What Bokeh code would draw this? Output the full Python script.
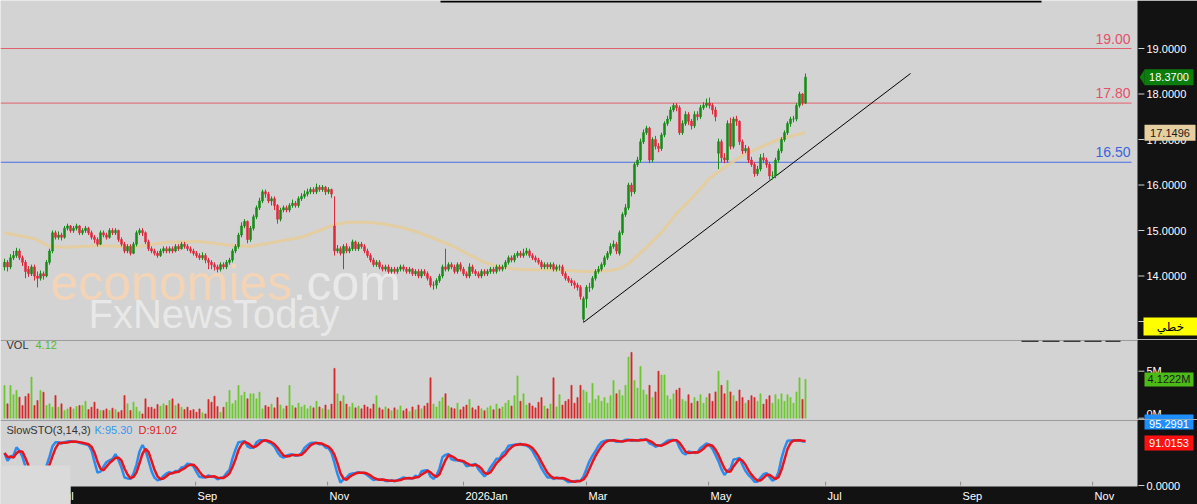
import pandas as pd
from bokeh.plotting import figure
from bokeh.layouts import column
from bokeh.models import Range1d, Label, BoxAnnotation, ColumnDataSource
from bokeh.embed import file_html
from bokeh.resources import INLINE

# ---------------- data ----------------
opens = [
    14.20, 14.30, 14.20, 14.40, 14.45, 14.55, 14.40, 14.30, 14.15, 14.05,
    14.20, 14.00, 13.95, 14.05, 14.00, 14.30, 14.55, 14.95, 14.85, 14.90,
    14.85, 15.05, 15.10, 15.00, 15.05, 15.10, 14.95, 15.00, 15.05, 14.95,
    14.85, 14.80, 14.70, 14.95, 14.90, 14.85, 15.00, 14.95, 15.00, 14.80,
    14.70, 14.55, 14.65, 14.50, 14.70, 14.95, 15.00, 14.95, 14.75, 14.60,
    14.55, 14.50, 14.45, 14.55, 14.60, 14.55, 14.60, 14.55, 14.65, 14.60,
    14.70, 14.65, 14.60, 14.55, 14.50, 14.45, 14.40, 14.45, 14.35, 14.30,
    14.25, 14.20, 14.15, 14.25, 14.20, 14.30, 14.35, 14.55, 14.65, 14.90,
    15.10, 15.20, 14.80, 15.05, 15.30, 15.50, 15.65, 15.85, 15.80, 15.65,
    15.70, 15.55, 15.25, 15.45, 15.50, 15.45, 15.55, 15.60, 15.55, 15.70,
    15.75, 15.80, 15.85, 15.90, 15.85, 15.95, 15.90, 15.95, 15.85, 15.90,
    15.10, 14.55, 14.60, 14.50, 14.65, 14.55, 14.60, 14.75, 14.60, 14.70,
    14.65, 14.55, 14.45, 14.35, 14.25, 14.30, 14.20, 14.15, 14.20, 14.10,
    14.15, 14.10, 14.15, 14.20, 14.15, 14.10, 14.15, 14.05, 14.10, 14.00,
    14.10, 14.05, 13.95, 13.80, 13.80, 13.90, 14.00, 14.20, 14.15, 14.25,
    14.20, 14.10, 14.25, 14.15, 14.05, 14.00, 14.20, 14.10, 14.05, 14.00,
    14.10, 14.05, 14.10, 14.15, 14.10, 14.20, 14.15, 14.20, 14.30, 14.40,
    14.35, 14.45, 14.50, 14.45, 14.50, 14.55, 14.45, 14.40, 14.35, 14.30,
    14.20, 14.25, 14.20, 14.25, 14.15, 14.20, 14.20, 14.05, 13.95, 13.90,
    13.85, 13.80, 13.75, 13.05, 13.50, 13.75, 13.75, 13.95, 14.10, 14.15,
    14.25, 14.40, 14.50, 14.65, 14.70, 14.50, 14.95, 15.35, 15.50, 16.00,
    15.85, 16.45, 16.55, 16.95, 17.15, 17.25, 16.55, 17.00, 16.85, 16.80,
    17.10, 17.35, 17.45, 17.65, 17.75, 17.70, 17.15, 17.35, 17.55, 17.40,
    17.30, 17.55, 17.50, 17.70, 17.75, 17.80, 17.75, 17.65, 16.70, 16.95,
    16.60, 16.55, 17.35, 16.85, 17.45, 17.40, 16.95, 16.75, 16.80, 16.55,
    16.45, 16.25, 16.35, 16.60, 16.55, 16.45, 16.20, 16.20, 16.55, 16.75,
    17.00, 17.15, 17.35, 17.45, 17.45, 17.75, 18.00, 17.80,
]
highs = [
    14.38, 14.35, 14.48, 14.55, 14.62, 14.60, 14.45, 14.35, 14.22, 14.25,
    14.25, 14.10, 14.12, 14.10, 14.35, 14.60, 15.00, 15.00, 14.98, 14.95,
    15.10, 15.15, 15.12, 15.10, 15.15, 15.12, 15.05, 15.10, 15.08, 15.00,
    14.90, 14.85, 15.00, 15.00, 14.95, 15.05, 15.05, 15.05, 15.02, 14.85,
    14.75, 14.70, 14.70, 14.75, 15.00, 15.05, 15.05, 14.98, 14.80, 14.65,
    14.60, 14.55, 14.60, 14.65, 14.65, 14.65, 14.65, 14.70, 14.70, 14.75,
    14.75, 14.70, 14.65, 14.60, 14.55, 14.50, 14.52, 14.50, 14.40, 14.35,
    14.30, 14.25, 14.30, 14.30, 14.35, 14.40, 14.60, 14.70, 14.95, 15.18,
    15.25, 15.22, 15.10, 15.35, 15.55, 15.72, 15.90, 15.90, 15.85, 15.75,
    15.75, 15.58, 15.50, 15.55, 15.55, 15.60, 15.68, 15.65, 15.75, 15.82,
    15.88, 15.92, 15.95, 15.95, 16.03, 16.00, 16.00, 15.98, 15.95, 15.92,
    15.75, 14.68, 14.65, 14.70, 14.72, 14.65, 14.80, 14.78, 14.75, 14.75,
    14.70, 14.60, 14.50, 14.40, 14.35, 14.35, 14.25, 14.25, 14.25, 14.20,
    14.20, 14.20, 14.25, 14.25, 14.20, 14.20, 14.18, 14.15, 14.15, 14.15,
    14.15, 14.10, 14.00, 13.88, 13.95, 14.05, 14.25, 14.60, 14.30, 14.30,
    14.25, 14.30, 14.30, 14.20, 14.10, 14.28, 14.25, 14.15, 14.10, 14.15,
    14.15, 14.15, 14.20, 14.20, 14.25, 14.25, 14.25, 14.35, 14.45, 14.45,
    14.50, 14.55, 14.55, 14.60, 14.62, 14.60, 14.50, 14.45, 14.40, 14.35,
    14.30, 14.30, 14.30, 14.30, 14.25, 14.25, 14.25, 14.10, 14.00, 13.95,
    13.90, 13.85, 13.80, 13.55, 13.80, 13.85, 14.00, 14.15, 14.22, 14.30,
    14.45, 14.55, 14.72, 14.78, 14.75, 15.00, 15.40, 15.58, 16.05, 16.05,
    16.50, 16.62, 17.02, 17.22, 17.30, 17.28, 17.05, 17.08, 16.92, 17.15,
    17.40, 17.52, 17.72, 17.80, 17.80, 17.75, 17.42, 17.62, 17.60, 17.45,
    17.62, 17.62, 17.76, 17.82, 17.90, 17.92, 17.80, 17.72, 17.02, 17.00,
    16.70, 17.42, 17.48, 17.50, 17.52, 17.42, 17.00, 16.88, 16.85, 16.62,
    16.50, 16.42, 16.68, 16.70, 16.60, 16.50, 16.30, 16.60, 16.80, 17.05,
    17.20, 17.40, 17.50, 17.52, 17.80, 18.05, 18.02, 18.45,
]
lows = [
    14.12, 14.10, 14.15, 14.35, 14.40, 14.35, 14.22, 13.95, 13.98, 14.00,
    13.90, 13.75, 13.90, 13.92, 13.97, 14.25, 14.50, 14.80, 14.80, 14.78,
    14.82, 15.00, 14.95, 14.95, 15.00, 14.90, 14.90, 14.95, 14.90, 14.80,
    14.72, 14.65, 14.68, 14.85, 14.80, 14.82, 14.90, 14.90, 14.75, 14.65,
    14.50, 14.50, 14.45, 14.48, 14.65, 14.90, 14.88, 14.70, 14.55, 14.50,
    14.45, 14.40, 14.42, 14.50, 14.50, 14.50, 14.50, 14.52, 14.55, 14.58,
    14.60, 14.55, 14.50, 14.45, 14.40, 14.35, 14.35, 14.28, 14.15, 14.15,
    14.12, 14.08, 14.10, 14.15, 14.15, 14.25, 14.30, 14.50, 14.60, 14.85,
    15.05, 14.72, 14.75, 15.00, 15.25, 15.45, 15.60, 15.72, 15.60, 15.55,
    15.45, 15.15, 15.20, 15.40, 15.40, 15.40, 15.50, 15.50, 15.50, 15.65,
    15.70, 15.75, 15.80, 15.80, 15.80, 15.85, 15.85, 15.78, 15.80, 15.72,
    14.45, 14.50, 14.45, 14.15, 14.50, 14.50, 14.55, 14.55, 14.55, 14.60,
    14.50, 14.40, 14.30, 14.20, 14.20, 14.15, 14.10, 14.10, 14.05, 14.05,
    14.05, 14.05, 14.10, 14.10, 14.05, 14.05, 14.00, 14.00, 13.95, 13.95,
    14.00, 13.90, 13.75, 13.70, 13.72, 13.85, 13.95, 14.10, 14.10, 14.15,
    14.05, 14.05, 14.10, 14.00, 13.95, 13.95, 14.05, 14.00, 13.95, 13.95,
    14.00, 14.00, 14.05, 14.05, 14.05, 14.10, 14.10, 14.15, 14.25, 14.30,
    14.30, 14.40, 14.40, 14.40, 14.45, 14.40, 14.35, 14.30, 14.25, 14.15,
    14.15, 14.15, 14.15, 14.10, 14.10, 14.12, 14.00, 13.90, 13.85, 13.78,
    13.72, 13.68, 13.48, 12.98, 13.30, 13.65, 13.70, 13.90, 14.05, 14.10,
    14.20, 14.35, 14.45, 14.60, 14.48, 14.45, 14.90, 15.30, 15.45, 15.75,
    15.80, 16.40, 16.50, 16.90, 17.10, 16.48, 16.50, 16.78, 16.72, 16.75,
    17.05, 17.30, 17.40, 17.60, 17.62, 17.10, 17.10, 17.30, 17.32, 17.22,
    17.25, 17.42, 17.45, 17.65, 17.70, 17.68, 17.55, 17.40, 16.35, 16.50,
    16.48, 16.50, 16.78, 16.80, 17.30, 16.88, 16.68, 16.70, 16.48, 16.40,
    16.18, 16.20, 16.30, 16.48, 16.38, 16.12, 16.12, 16.15, 16.50, 16.70,
    16.95, 17.10, 17.28, 17.38, 17.40, 17.70, 17.75, 17.78,
]
closes = [
    14.30, 14.20, 14.40, 14.45, 14.55, 14.40, 14.30, 14.10, 14.05, 14.20,
    14.00, 13.95, 14.05, 14.00, 14.30, 14.55, 14.95, 14.85, 14.90, 14.85,
    15.05, 15.10, 15.00, 15.05, 15.10, 14.95, 15.00, 15.05, 14.95, 14.85,
    14.80, 14.70, 14.95, 14.90, 14.85, 15.00, 14.95, 15.00, 14.80, 14.70,
    14.55, 14.65, 14.50, 14.70, 14.95, 15.00, 14.95, 14.75, 14.60, 14.55,
    14.50, 14.45, 14.55, 14.60, 14.55, 14.60, 14.55, 14.65, 14.60, 14.70,
    14.65, 14.60, 14.55, 14.50, 14.45, 14.40, 14.45, 14.35, 14.30, 14.25,
    14.20, 14.15, 14.25, 14.20, 14.30, 14.35, 14.55, 14.65, 14.90, 15.10,
    15.20, 14.80, 15.05, 15.30, 15.50, 15.65, 15.85, 15.80, 15.65, 15.70,
    15.55, 15.25, 15.45, 15.50, 15.45, 15.55, 15.60, 15.55, 15.70, 15.75,
    15.80, 15.85, 15.90, 15.85, 15.95, 15.90, 15.95, 15.85, 15.90, 15.80,
    14.55, 14.60, 14.50, 14.65, 14.55, 14.60, 14.75, 14.60, 14.70, 14.65,
    14.55, 14.45, 14.35, 14.25, 14.30, 14.20, 14.15, 14.20, 14.10, 14.15,
    14.10, 14.15, 14.20, 14.15, 14.10, 14.15, 14.05, 14.10, 14.00, 14.10,
    14.05, 13.95, 13.80, 13.80, 13.90, 14.00, 14.20, 14.15, 14.25, 14.20,
    14.10, 14.25, 14.15, 14.05, 14.00, 14.20, 14.10, 14.05, 14.00, 14.10,
    14.05, 14.10, 14.15, 14.10, 14.20, 14.15, 14.20, 14.30, 14.40, 14.35,
    14.45, 14.50, 14.45, 14.50, 14.55, 14.45, 14.40, 14.35, 14.30, 14.20,
    14.25, 14.20, 14.25, 14.15, 14.20, 14.20, 14.05, 13.95, 13.90, 13.85,
    13.80, 13.75, 13.55, 13.50, 13.75, 13.75, 13.95, 14.10, 14.15, 14.25,
    14.40, 14.50, 14.65, 14.70, 14.55, 14.95, 15.35, 15.50, 16.00, 15.85,
    16.45, 16.55, 16.95, 17.15, 17.25, 16.55, 17.00, 16.85, 16.80, 17.10,
    17.35, 17.45, 17.65, 17.75, 17.70, 17.15, 17.35, 17.55, 17.40, 17.30,
    17.55, 17.50, 17.70, 17.75, 17.80, 17.75, 17.65, 17.50, 16.95, 16.60,
    16.55, 17.35, 16.85, 17.45, 17.40, 16.95, 16.75, 16.80, 16.55, 16.45,
    16.25, 16.35, 16.60, 16.55, 16.45, 16.20, 16.20, 16.55, 16.75, 17.00,
    17.15, 17.35, 17.45, 17.45, 17.75, 18.00, 17.80, 18.37,
]
volumes_m = [
    3.48, 1.53, 3.48, 2.49, 2.95, 2.24, 1.35, 2.31, 2.60, 4.37,
    1.35, 1.88, 2.95, 2.77, 1.35, 1.53, 1.17, 2.41, 1.17, 1.53,
    0.82, 0.99, 1.17, 0.99, 1.24, 1.35, 1.35, 1.81, 0.92, 1.17,
    1.71, 0.99, 0.82, 0.82, 0.99, 0.82, 1.07, 0.92, 0.64, 0.82,
    2.41, 1.53, 0.82, 1.71, 1.17, 0.71, 0.46, 2.06, 1.17, 1.17,
    0.99, 1.46, 1.28, 1.53, 1.35, 1.88, 2.06, 1.35, 1.53, 1.17,
    0.92, 1.17, 0.82, 0.92, 0.64, 0.99, 0.57, 0.46, 1.99, 1.71,
    2.34, 1.24, 0.64, 1.17, 1.71, 2.95, 1.53, 1.88, 3.48, 2.41,
    2.77, 2.06, 2.60, 2.60, 2.06, 2.77, 0.99, 1.35, 1.20, 1.50,
    1.10, 2.20, 1.40, 1.00, 1.30, 3.48, 1.35, 1.10, 1.60, 1.20,
    1.40, 1.00, 1.30, 1.10, 1.80, 1.20, 1.00, 1.40, 0.90, 1.50,
    5.30, 2.60, 1.80, 2.40, 1.50, 1.20, 1.60, 1.10, 1.30, 1.00,
    1.40, 1.20, 1.00, 1.50, 2.40, 1.10, 0.90, 1.20, 1.00, 0.80,
    1.10, 0.90, 1.30, 0.80, 1.00, 0.70, 1.20, 0.90, 1.40, 1.00,
    1.30, 1.60, 4.30, 1.50, 1.20, 1.80, 2.20, 2.60, 1.30, 1.10,
    1.00, 1.60, 0.90, 1.20, 1.40, 2.00, 1.10, 0.90, 1.30, 1.00,
    0.80, 1.10, 1.30, 0.90, 1.50, 1.00, 1.20, 1.60, 1.90, 1.30,
    2.40, 4.50, 1.80, 2.60, 1.40, 1.60, 1.30, 1.10, 1.70, 2.20,
    1.30, 1.00, 1.50, 4.30, 1.20, 2.50, 1.40, 1.80, 2.00, 3.50,
    1.60, 2.20, 3.50, 3.00, 2.80, 1.60, 3.70, 2.00, 2.40, 1.80,
    2.20, 1.60, 2.40, 4.00, 2.60, 3.00, 2.40, 3.50, 6.50, 7.00,
    4.00, 3.20, 5.50, 3.00, 2.50, 3.50, 2.20, 2.80, 5.00, 4.60,
    4.60, 2.40, 2.00, 2.60, 3.00, 3.20, 2.00, 1.80, 2.50, 1.60,
    2.20, 1.80, 2.50, 1.60, 2.20, 2.60, 1.80, 2.80, 5.00, 3.50,
    2.60, 4.00, 2.80, 2.40, 1.80, 3.00, 2.20, 1.60, 1.90, 2.40,
    2.20, 1.80, 2.60, 1.50, 2.00, 2.40, 1.60, 2.50, 2.00, 2.60,
    1.80, 2.50, 2.20, 1.60, 2.80, 4.30, 2.00, 4.1222,
]
# moving average read at sample bars
ma_bars = [0, 10, 15, 21, 32, 43, 54, 65, 76, 82, 88, 99, 105, 110, 115, 121, 126,
           132, 138, 143, 149, 154, 160, 165, 171, 176, 182, 188, 193, 196, 202, 205,
           208, 211, 214, 219, 224, 230, 235, 241, 246, 252, 258, 263, 267]
ma_values = [14.95, 14.82, 14.65, 14.63, 14.67, 14.63, 14.74, 14.76, 14.67, 14.65, 14.72,
             14.85, 15.00, 15.13, 15.18, 15.18, 15.15, 15.07, 14.96, 14.83, 14.67, 14.50,
             14.30, 14.20, 14.15, 14.14, 14.14, 14.12, 14.10, 14.10, 14.12, 14.16, 14.27,
             14.45, 14.63, 14.96, 15.37, 15.77, 16.15, 16.43, 16.65, 16.83, 17.00, 17.09,
             17.1496]
level_prices = [19.00, 17.80, 16.50]
trend_bars = [193, 302]
trend_prices = [12.98, 18.45]
price_ticks = [13, 14, 15, 16, 17, 18, 19]
volume_ticks = [0, 5]
month_bars = [17.7, 63.7, 107.7, 153, 194, 234.7, 273.7, 318.7, 362.7]
month_labels = ["Jul", "Sep", "Nov", "2026Jan", "Mar", "May", "Jul", "Sep", "Nov"]
k_last = 95.2991
d_last = 91.0153
chart_type_label = "خطي"
watermark_texts = ["economies", ".com", "FxNewsToday"]

# ---------------- styling / layout constants ----------------
BG = "#d3d3d3"
DARK = "#121212"
UP = "#178a17"
DOWN = "#e0283c"
VUP = "#6cc833"
VDOWN = "#d42a2a"
LEVEL_COLORS = ["#e0606e", "#e0606e", "#4a6ee6"]
LABEL_COLORS = ["#e4506a", "#e4506a", "#3a64dc"]
FONT = "Liberation Sans"
W = 1197
EDGE_PX = 1137           # where the dark price-axis column starts
PX_PER_BAR = 3.0
X0 = -4 / PX_PER_BAR
EDGE_X = X0 + EDGE_PX / PX_PER_BAR

# vertical scales (pixels per unit) and canvas spans of the three panes
MAIN_PPU, MAIN_TOP, MAIN_H = 45.5, 0, 339
VOL_PPU, VOL_TOP, VOL_H = 9.4, 339, 80
STO_PPU, STO_TOP, STO_H = 0.47, 419, 85

PRICE_HI = 19 + 48 / MAIN_PPU
PRICE_LO = PRICE_HI - MAIN_H / MAIN_PPU
VOL_HI = (417.7 - VOL_TOP) / VOL_PPU
VOL_LO = VOL_HI - VOL_H / VOL_PPU
STO_HI = (485 - STO_TOP) / STO_PPU
STO_LO = STO_HI - STO_H / STO_PPU


def main_y(py):
    return PRICE_HI - (py - MAIN_TOP) / MAIN_PPU


def vol_y(py):
    return VOL_HI - (py - VOL_TOP) / VOL_PPU


def sto_y(py):
    return STO_HI - (py - STO_TOP) / STO_PPU


x_range = Range1d(X0, X0 + W / PX_PER_BAR)


def make_fig(height, lo, hi):
    p = figure(width=W, height=height, x_range=x_range, y_range=Range1d(lo, hi),
               output_backend="svg", toolbar_location=None, title=None,
               x_axis_location=None, y_axis_location=None,
               min_border_left=0, min_border_right=0, min_border_top=0,
               min_border_bottom=0, background_fill_color=BG,
               border_fill_color=BG, outline_line_color=None)
    p.xgrid.visible = False
    p.ygrid.visible = False
    # dark price-axis column on the right
    p.add_layout(BoxAnnotation(left=EDGE_PX, right=W, left_units="screen", right_units="screen",
                               top=hi, bottom=lo, fill_color=DARK, fill_alpha=1,
                               line_color=None, level="underlay"))
    return p


def axis_ticks(p, ys, texts):
    p.segment(x0=[EDGE_X + 0.3] * len(ys), x1=[EDGE_X + 2.3] * len(ys), y0=ys, y1=ys,
              line_color="#d0d0d0", line_width=1)
    for yv, t in zip(ys, texts):
        p.add_layout(Label(x=1146, x_units="screen", y=yv, text=t, text_color="white",
                           text_baseline="middle", text_font=FONT, text_font_size="11px"))


def add_tag(p, fy, py0, py1, x0, x1, text, bg, fg, font=FONT, size="11px", with_text=True):
    p.add_layout(BoxAnnotation(left=x0, right=x1, left_units="screen", right_units="screen",
                               top=fy(py0), bottom=fy(py1), fill_color=bg, fill_alpha=1,
                               line_color=None))
    if with_text:
        p.add_layout(Label(x=(x0 + x1) / 2, x_units="screen", y=fy((py0 + py1) / 2), text=text,
                           text_align="center", text_baseline="middle", text_color=fg,
                           text_font=font, text_font_size=size))


def separator(p, fy, py):
    p.add_layout(BoxAnnotation(left=0, right=EDGE_PX, left_units="screen", right_units="screen",
                               top=fy(py), bottom=fy(py + 1.2), fill_color="#8a8a8a",
                               fill_alpha=1, line_color=None))


n = len(closes)
idx = list(range(n))
is_up = [c >= o for o, c in zip(opens, closes)]
src = ColumnDataSource(dict(
    x=idx, h=highs, l=lows,
    top=[max(o, c) for o, c in zip(opens, closes)],
    bot=[min(o, c) for o, c in zip(opens, closes)],
    col=[UP if u else DOWN for u in is_up],
    vcol=[VUP if u else VDOWN for u in is_up],
    vol=volumes_m,
))

# ---------------- main price pane ----------------
main = make_fig(MAIN_H, PRICE_LO, PRICE_HI)

# faint watermark behind the candles
main.add_layout(Label(x=50, x_units="screen", y=main_y(282), text=watermark_texts[0],
                      text_color="#f6d4b4", text_alpha=0.9, text_font=FONT,
                      text_font_size="50px", text_baseline="alphabetic", level="underlay"))
main.add_layout(Label(x=292, x_units="screen", y=main_y(282), text=watermark_texts[1],
                      text_color="#ececec", text_alpha=0.85, text_font=FONT,
                      text_font_size="50px", text_baseline="alphabetic", level="underlay"))
main.add_layout(Label(x=88, x_units="screen", y=main_y(313), text=watermark_texts[2],
                      text_color="#ececec", text_alpha=0.85, text_font=FONT,
                      text_font_size="40px", text_baseline="alphabetic", level="underlay"))

axis_ticks(main, price_ticks, [f"{t:.4f}" for t in price_ticks])

main.segment(x0=[X0] * 3, x1=[EDGE_X - 2] * 3, y0=level_prices, y1=level_prices,
             line_color=LEVEL_COLORS, line_width=1)
for lvl, tc in zip(level_prices, LABEL_COLORS):
    main.add_layout(Label(x=EDGE_PX - 7, x_units="screen", y=lvl, y_offset=5,
                          text=f"{lvl:.2f}", text_align="right", text_baseline="bottom",
                          text_color=tc, text_font=FONT, text_font_size="14px"))

main.line(ma_bars, ma_values, line_color="#e6cc98", line_width=3, line_alpha=0.85)
main.line(trend_bars, trend_prices, line_color="black", line_width=1)
main.segment(x0="x", y0="l", x1="x", y1="h", line_color="col", line_width=1, source=src)
main.vbar(x="x", top="top", bottom="bot", width=0.68, fill_color="col",
          line_color="col", line_width=0.5, source=src)

main.add_layout(BoxAnnotation(left=440, right=1041, left_units="screen", right_units="screen",
                              top=PRICE_HI, bottom=main_y(2), fill_color="black",
                              fill_alpha=1, line_color=None))

# last-price tag with its pointer
c_last = closes[-1]
half = 8 / MAIN_PPU
main.patch([EDGE_X + 0.7, EDGE_X + 2.4, EDGE_X + 2.4], [c_last, c_last + half, c_last - half],
           fill_color="#0c7c0c", line_color=None)
c_py = MAIN_TOP + (PRICE_HI - c_last) * MAIN_PPU
add_tag(main, main_y, c_py - 8, c_py + 8, 1144, 1193, f"{c_last:.4f}", "#0c7c0c", "white")
ma_py = MAIN_TOP + (PRICE_HI - ma_values[-1]) * MAIN_PPU
add_tag(main, main_y, ma_py - 8, ma_py + 8, 1144, 1195, f"{ma_values[-1]:.4f}", "#e6cfa0",
        "#1a1a1a")
add_tag(main, main_y, 317, 335, 1143, 1197, chart_type_label, "#ffff00", "black",
        font="DejaVu Sans", size="12px")

# ---------------- volume pane ----------------
vol = make_fig(VOL_H, VOL_LO, VOL_HI)
separator(vol, vol_y, 339)
vol.vbar(x="x", top="vol", bottom=0, width=0.4, fill_color="vcol", line_color="vcol",
         line_width=0.6, source=src)
axis_ticks(vol, [volume_ticks[1]], [f"{volume_ticks[1]}M"])
vol.segment(x0=[EDGE_X + 0.3], x1=[EDGE_X + 2.3], y0=[volume_ticks[0]], y1=[volume_ticks[0]],
            line_color="#d0d0d0", line_width=1)
vol.add_layout(Label(x=1146, x_units="screen", y=vol_y(413), text=f"{volume_ticks[0]}M",
                     text_color="white", text_baseline="middle", text_font=FONT,
                     text_font_size="11px"))
vol.add_layout(Label(x=6, x_units="screen", y=vol_y(344), text="VOL", text_color="#333333",
                     text_baseline="middle", text_font=FONT, text_font_size="11px"))
vol.add_layout(Label(x=35, x_units="screen", y=vol_y(344), text=f"{volumes_m[-1]:.2f}",
                     text_color="#5cb82a", text_baseline="middle", text_font=FONT,
                     text_font_size="11px"))
v_py = VOL_TOP + (VOL_HI - volumes_m[-1]) * VOL_PPU
add_tag(vol, vol_y, v_py - 7, v_py + 7, 1144, 1193, f"{volumes_m[-1]:.4f}M", "#4cbb17",
        "#1a1a1a")
vol.segment(x0=[X0 + 1021 / PX_PER_BAR], x1=[X0 + 1120 / PX_PER_BAR], y0=[vol_y(340.5)],
            y1=[vol_y(340.5)], line_color="#3a3a3a", line_width=2, line_dash="17 4")
# top part of the K tag, which reaches into this pane
add_tag(vol, vol_y, 414, 419, 1144, 1193, "", "#1e8fff", "white", with_text=False)

# ---------------- stochastic pane ----------------
c = pd.Series(closes)
hh = pd.Series(highs).rolling(14, min_periods=1).max()
ll = pd.Series(lows).rolling(14, min_periods=1).min()
fast_k = 100 * (c - ll) / (hh - ll)
slow_k = fast_k.rolling(3, min_periods=1).mean()
slow_d = slow_k.rolling(3, min_periods=1).mean()

sto = make_fig(STO_H, STO_LO, STO_HI)
separator(sto, sto_y, 419)
sto.line(idx, list(slow_k), line_color="#2b8cf0", line_width=2.5)
sto.line(idx, list(slow_d), line_color="#e8141c", line_width=2.5)
sto.segment(x0=month_bars, y0=[0] * len(month_bars), x1=month_bars,
            y1=[8] * len(month_bars), line_color="#8a8a8a", line_width=1)

# bottom date strip
sto.add_layout(BoxAnnotation(left=70, right=W, left_units="screen", right_units="screen",
                             top=sto_y(486), bottom=STO_LO, fill_color=DARK, fill_alpha=1,
                             line_color=None, level="underlay"))
for mb, ml in zip(month_bars, month_labels):
    sto.add_layout(Label(x=mb, x_offset=2, y=sto_y(495), text=ml, text_color="white",
                         text_baseline="middle", text_font=FONT, text_font_size="11px"))
axis_ticks(sto, [0], [f"{0:.4f}"])

sto.add_layout(Label(x=6, x_units="screen", y=sto_y(429), text="SlowSTO(3,14,3)",
                     text_color="#333333", text_baseline="middle", text_font=FONT,
                     text_font_size="11px"))
sto.add_layout(Label(x=94, x_units="screen", y=sto_y(429), text=f"K:{k_last:.2f}",
                     text_color="#3399ee", text_baseline="middle", text_font=FONT,
                     text_font_size="11px"))
sto.add_layout(Label(x=138, x_units="screen", y=sto_y(429), text=f"D:{d_last:.2f}",
                     text_color="#dd2222", text_baseline="middle", text_font=FONT,
                     text_font_size="11px"))
add_tag(sto, sto_y, 419, 429, 1144, 1193, "", "#1e8fff", "white", with_text=False)
sto.add_layout(Label(x=1168.5, x_units="screen", y=sto_y(423.5), text=f"{k_last:.4f}",
                     text_align="center", text_baseline="middle", text_color="white",
                     text_font=FONT, text_font_size="11px"))
add_tag(sto, sto_y, 435, 450, 1144, 1193, f"{d_last:.4f}", "#ff1010", "white")

# light panel covering the lower-left corner
sto.add_layout(BoxAnnotation(left=0, right=70, left_units="screen", right_units="screen",
                             top=sto_y(465), bottom=STO_LO, fill_color="#dadada", fill_alpha=1,
                             line_color=None, level="overlay"))

layout = column(main, vol, sto, spacing=0)
open("out.html", "w").write(file_html(layout, INLINE))
